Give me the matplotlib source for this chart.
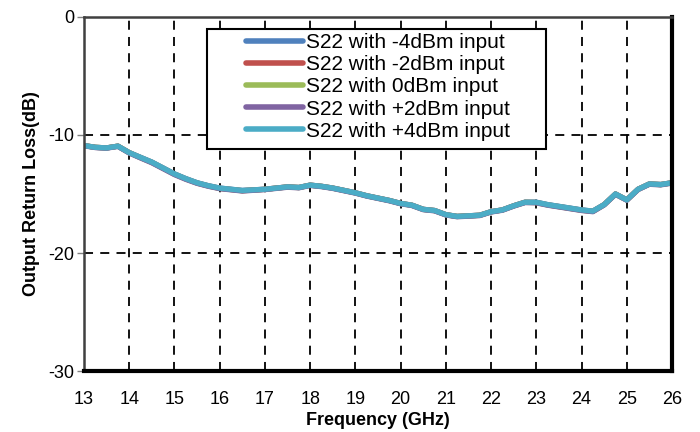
import matplotlib
matplotlib.use("Agg")
import matplotlib.pyplot as plt
from matplotlib.patches import Rectangle

plt.rcParams['font.family'] = ['Liberation Sans', 'DejaVu Sans']
plt.rcParams['axes.unicode_minus'] = False

freq = [13.00, 13.25, 13.50, 13.75, 14.00, 14.25, 14.50, 14.75, 15.00, 15.25,
        15.50, 15.75, 16.00, 16.25, 16.50, 16.75, 17.00, 17.25, 17.50, 17.75,
        18.00, 18.25, 18.50, 18.75, 19.00, 19.25, 19.50, 19.75, 20.00, 20.25,
        20.50, 20.75, 21.00, 21.25, 21.50, 21.75, 22.00, 22.25, 22.50, 22.75,
        23.00, 23.25, 23.50, 23.75, 24.00, 24.25, 24.50, 24.75, 25.00, 25.25,
        25.50, 25.75, 26.00]

s22_m4 = [-10.90, -11.05, -11.10, -10.95, -11.50, -11.90, -12.30, -12.80, -13.30, -13.70,
          -14.05, -14.30, -14.50, -14.60, -14.70, -14.65, -14.60, -14.50, -14.40, -14.45,
          -14.25, -14.35, -14.50, -14.70, -14.90, -15.15, -15.35, -15.55, -15.80, -15.95,
          -16.30, -16.40, -16.75, -16.90, -16.85, -16.80, -16.50, -16.35, -16.00, -15.70,
          -15.70, -15.90, -16.05, -16.20, -16.35, -16.45, -15.90, -15.00, -15.50, -14.60,
          -14.15, -14.20, -14.05]
s22_m2 = [-10.90, -11.05, -11.10, -10.95, -11.50, -11.92, -12.32, -12.82, -13.32, -13.72,
          -14.07, -14.32, -14.52, -14.62, -14.72, -14.66, -14.60, -14.50, -14.40, -14.45,
          -14.25, -14.35, -14.50, -14.70, -14.90, -15.15, -15.35, -15.55, -15.80, -15.95,
          -16.30, -16.40, -16.75, -16.90, -16.85, -16.80, -16.50, -16.35, -16.00, -15.70,
          -15.72, -15.92, -16.07, -16.22, -16.37, -16.47, -15.90, -15.00, -15.50, -14.60,
          -14.15, -14.20, -14.05]
s22_0 = [-10.90, -11.05, -11.10, -10.95, -11.50, -11.93, -12.33, -12.83, -13.33, -13.73,
         -14.08, -14.33, -14.53, -14.63, -14.73, -14.67, -14.61, -14.51, -14.41, -14.46,
         -14.26, -14.36, -14.51, -14.71, -14.91, -15.16, -15.36, -15.56, -15.81, -15.96,
         -16.31, -16.41, -16.76, -16.91, -16.86, -16.81, -16.51, -16.36, -16.01, -15.71,
         -15.73, -15.93, -16.08, -16.23, -16.38, -16.48, -15.91, -15.01, -15.51, -14.61,
         -14.16, -14.21, -14.06]
s22_p2 = [-10.92, -11.07, -11.12, -10.97, -11.53, -11.95, -12.36, -12.86, -13.36, -13.76,
          -14.10, -14.35, -14.55, -14.65, -14.75, -14.69, -14.63, -14.53, -14.43, -14.48,
          -14.28, -14.38, -14.53, -14.73, -14.93, -15.18, -15.38, -15.58, -15.83, -15.98,
          -16.33, -16.43, -16.78, -16.93, -16.88, -16.83, -16.53, -16.38, -16.03, -15.73,
          -15.75, -15.95, -16.10, -16.25, -16.40, -16.50, -15.93, -15.03, -15.53, -14.63,
          -14.18, -14.23, -14.08]
s22_p4 = [-10.90, -11.05, -11.10, -10.95, -11.50, -11.90, -12.30, -12.80, -13.30, -13.70,
          -14.05, -14.30, -14.50, -14.60, -14.70, -14.65, -14.60, -14.50, -14.40, -14.45,
          -14.25, -14.35, -14.50, -14.70, -14.90, -15.15, -15.35, -15.55, -15.80, -15.95,
          -16.30, -16.40, -16.75, -16.90, -16.85, -16.80, -16.50, -16.35, -16.00, -15.70,
          -15.70, -15.90, -16.05, -16.20, -16.35, -16.45, -15.90, -15.00, -15.50, -14.60,
          -14.15, -14.20, -14.05]

labels = ["S22 with -4dBm input", "S22 with -2dBm input", "S22 with 0dBm input",
          "S22 with +2dBm input", "S22 with +4dBm input"]
colors = ["#4F81BD", "#C0504D", "#9BBB59", "#8064A2", "#4BACC6"]
series = [s22_m4, s22_m2, s22_0, s22_p2, s22_p4]

x_ticks = list(range(13, 27))
y_ticks = [-30, -20, -10, 0]

fig = plt.figure(figsize=(7.0, 4.32), dpi=100)
ax = fig.add_axes([0.12, 0.141, 0.84, 0.82])

for ys, c, lab in zip(series, colors, labels):
    ax.plot(freq, ys, color=c, lw=3.8, label=lab, solid_capstyle='round')

ax.set_xlim(13, 26)
ax.set_ylim(-30, 0)
ax.set_xticks(x_ticks)
ax.set_yticks(y_ticks)
ax.tick_params(axis='x', length=0, labelsize=13, pad=14)
ax.tick_params(axis='y', length=5, color='#808080', width=1, labelsize=13, pad=2, direction='out')

ax.grid(True, color='black', linestyle=(0, (5, 4)), lw=1.3)
ax.set_axisbelow(True)

for s in ['left', 'top']:
    ax.spines[s].set_color('#404040')
    ax.spines[s].set_linewidth(1.8)
for s in ['right', 'bottom']:
    ax.spines[s].set_color('black')
    ax.spines[s].set_linewidth(3)

ax.set_xlabel("Frequency (GHz)", fontsize=13, fontweight='bold', labelpad=3)
ax.set_ylabel("Output Return Loss(dB)", fontsize=13, fontweight='bold', labelpad=6)

# legend frame box
frame = Rectangle((0.209, 0.627), 0.577, 0.339, transform=ax.transAxes,
                  facecolor='white', edgecolor='black', lw=1.5, zorder=4)
ax.add_patch(frame)

leg = ax.legend(loc='center', bbox_to_anchor=(0.50, 0.802),
                fontsize=15, frameon=False, handlelength=2.7,
                labelspacing=0.15, borderpad=0.0, handletextpad=0.15,
                borderaxespad=0)
leg.set_zorder(5)
for l in leg.get_lines():
    l.set_linewidth(4)
    l.set_solid_capstyle('round')

fig.savefig("out.png", dpi=100)
